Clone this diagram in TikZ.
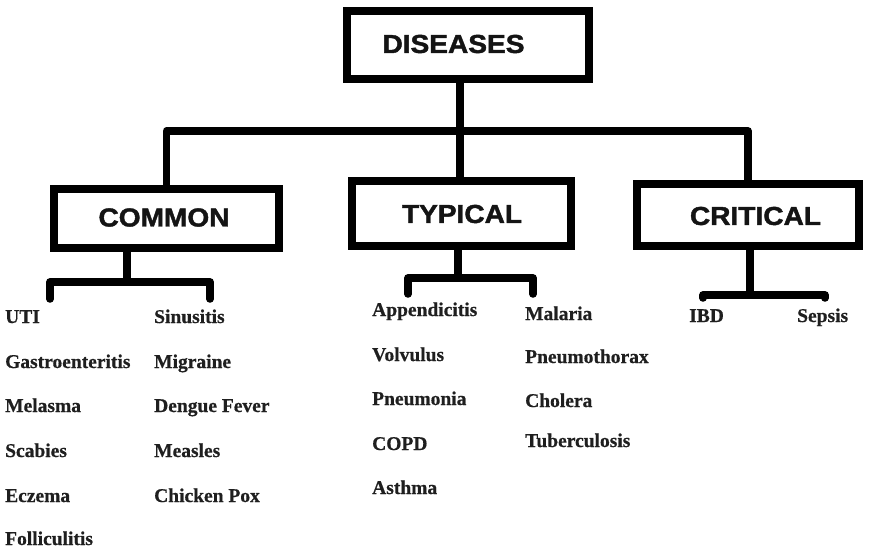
\documentclass[tikz,border=0pt]{standalone}
\usepackage{fontspec}
\newfontfamily\titlefont[FakeStretch=1.08,FakeBold=1.6]{Liberation Sans}
\newfontfamily\listfont[FakeBold=0.6]{Liberation Serif}
\begin{document}
\begin{tikzpicture}[x=1pt,y=-1pt,
  box/.style={draw=black, line width=7.5pt, fill=white, inner sep=0pt},
  title/.style={font=\titlefont\bfseries\fontsize{26}{30}\selectfont, text=black!92, inner sep=0pt},
  item/.style={font=\listfont\bfseries\fontsize{19.5}{22}\selectfont, text=black!88, anchor=base west, inner sep=0pt},
  conn/.style={draw=black, line width=7.5pt, line join=round},
  drop/.style={conn, line cap=round}]
\useasboundingbox (0,0) rectangle (869,550);

% category boxes
\node[box, minimum width=242pt, minimum height=68pt] (dis)  at (468,45)    {};
\node[box, minimum width=225pt, minimum height=59pt] (com)  at (166.5,218.5) {};
\node[box, minimum width=219pt, minimum height=65pt] (typ)  at (461.5,213.5) {};
\node[box, minimum width=222pt, minimum height=62pt] (crit) at (748,215)   {};

% box titles
\node[title] (distxt)  at (453.5,44)  {DISEASES};
\node[title] (comtxt)  at (164,217.5) {COMMON};
\node[title] (typtxt)  at (462,214)   {TYPICAL};
\node[title] (crittxt) at (755.5,216) {CRITICAL};

% top-level branching
\coordinate (j0) at (460,131);
\draw[conn] (j0 |- dis.south) -- (j0);
\draw[conn] (com.north) |- (j0) -| (crit.north);
\draw[conn] (j0) -- (j0 |- typ.north);

% branching below COMMON
\coordinate (cj) at (127,282);
\coordinate (ca) at (50,299);
\coordinate (cb) at (210,299);
\draw[conn] (cj |- com.south) -- (cj);
\draw[drop] (ca) |- (cj) -| (cb);

% branching below TYPICAL
\coordinate (tj) at (458,278);
\coordinate (ta) at (408,294);
\coordinate (tb) at (533,294);
\draw[conn] (tj |- typ.south) -- (tj);
\draw[drop] (ta) |- (tj) -| (tb);

% branching below CRITICAL
\coordinate (kj) at (750,295);
\coordinate (ka) at (703,298);
\coordinate (kb) at (825,298);
\draw[conn] (kj |- crit.south) -- (kj);
\draw[drop] (ka) |- (kj) -| (kb);

% common diseases
\node[item] (uti)    at (5,323)   {UTI};
\node[item] (gastro) at (5,368)   {Gastroenteritis};
\node[item] (mel)    at (5,412)   {Melasma};
\node[item] (scab)   at (5,457)   {Scabies};
\node[item] (ecz)    at (5,502)   {Eczema};
\node[item] (foll)   at (5,545)   {Folliculitis};
\node[item] (sinus)  at (154,323) {Sinusitis};
\node[item] (migr)   at (154,368) {Migraine};
\node[item] (dengue) at (154,412) {Dengue Fever};
\node[item] (meas)   at (154,457) {Measles};
\node[item] (chick)  at (154,502) {Chicken Pox};

% typical diseases
\node[item] (app)    at (372,316) {Appendicitis};
\node[item] (volv)   at (372,361) {Volvulus};
\node[item] (pneu)   at (372,405) {Pneumonia};
\node[item] (copd)   at (372,450) {COPD};
\node[item] (asth)   at (372,494) {Asthma};
\node[item] (mal)    at (525,320) {Malaria};
\node[item] (pthx)   at (525,363) {Pneumothorax};
\node[item] (chol)   at (525,407) {Cholera};
\node[item] (tb)     at (525,447) {Tuberculosis};

% critical diseases
\node[item] (ibd)    at (689,322) {IBD};
\node[item] (sepsis) at (797,322) {Sepsis};
\end{tikzpicture}
\end{document}
